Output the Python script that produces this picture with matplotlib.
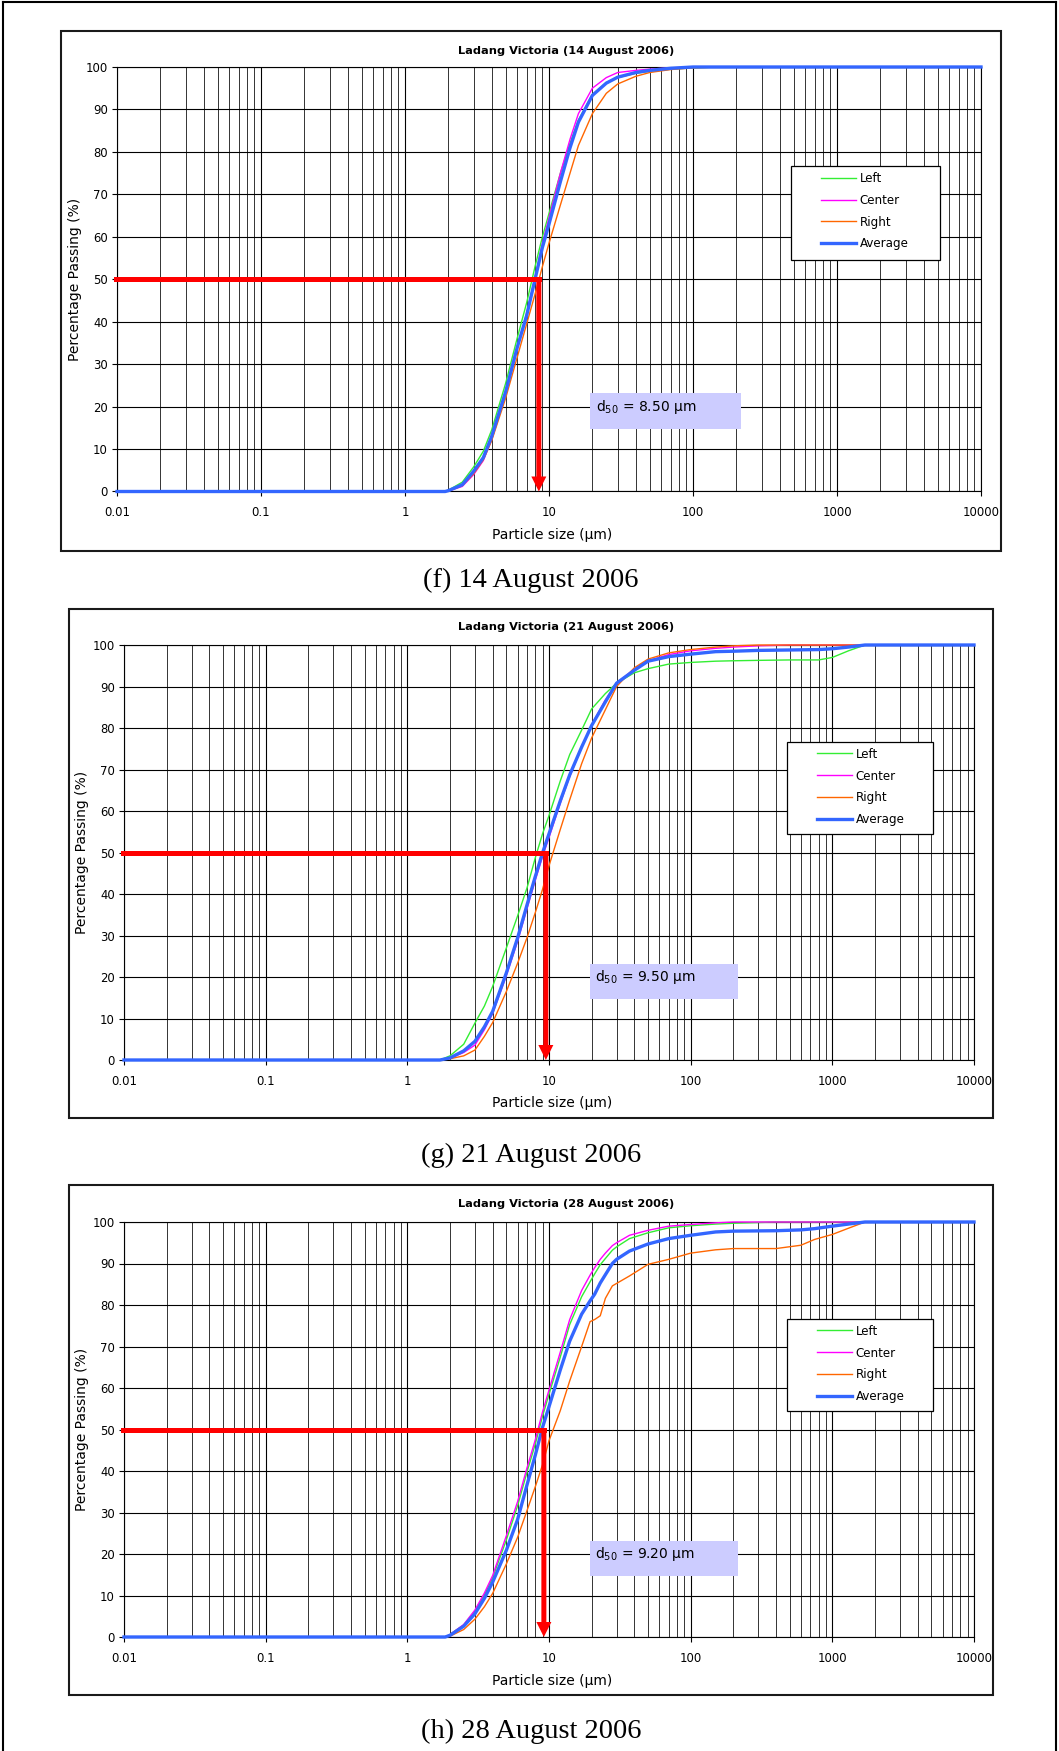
import numpy as np
import matplotlib
matplotlib.use("Agg")
import matplotlib.pyplot as plt
from matplotlib.patches import Rectangle
from matplotlib.lines import Line2D
from matplotlib.ticker import LogLocator, NullFormatter

plt.rcParams["font.family"] = ["DejaVu Sans"]

# ---------------------------------------------------------------- data
series_names = ["Left", "Center", "Right", "Average"]
series_colors = ["#33ee33", "#ff00ff", "#ff6600", "#3366ff"]

panel_tags = ["(f)", "(g)", "(h)"]
panel_dates = ["14 August 2006", "21 August 2006", "28 August 2006"]
d50_values = [8.50, 9.50, 9.20]

x_ticks = [0.01, 0.1, 1, 10, 100, 1000, 10000]
x_tick_labels = ["0.01", "0.1", "1", "10", "100", "1000", "10000"]
y_ticks = [0, 10, 20, 30, 40, 50, 60, 70, 80, 90, 100]

# 14 August 2006
size_f = [0.01, 1.9, 2, 2.5, 3, 3.5, 4, 5, 6, 7, 8, 9, 10, 12, 14, 16, 20, 25,
          30, 40, 50, 70, 100, 150, 10000]
left_f = [0, 0, 0.3, 2.2, 5.8, 9.5, 14.5, 25.5, 36, 44.5, 53, 60, 65.5, 75, 82,
          87.5, 93.5, 96.3, 97.5, 98.5, 99, 99.5, 99.8, 100, 100]
center_f = [0, 0, 0.1, 1.2, 4.0, 7.3, 12.2, 23, 33.5, 42, 50.5, 58.5, 64.5, 75,
            83, 89, 95, 97.5, 98.7, 99.2, 99.5, 99.8, 100, 100, 100]
right_f = [0, 0, 0.1, 1.4, 4.2, 7.5, 12, 22, 31.5, 39.5, 46.5, 53, 58.5, 67.5,
           75, 81.5, 89, 93.8, 96, 97.8, 98.7, 99.4, 99.8, 100, 100]
avg_f = [0, 0, 0.2, 1.6, 4.8, 8, 13, 23.5, 33.8, 41.5, 50, 57.5, 63, 73, 81, 87,
         93.3, 96.2, 97.6, 98.7, 99.2, 99.7, 100, 100, 100]

# 21 August 2006
size_g = [0.01, 1.7, 2, 2.5, 3, 3.5, 4, 5, 6, 7, 8, 9, 10, 12, 14, 17, 20, 25,
          30, 40, 50, 70, 100, 150, 200, 300, 500, 800, 1000, 1300, 1700, 2000,
          10000]
left_g = [0, 0, 1.0, 3.8, 8.9, 13, 17.7, 27, 34.7, 41.5, 48.7, 54.5, 58.9, 67.2,
          73.6, 79.5, 84.6, 88.3, 90.8, 93.3, 94.3, 95.4, 95.8, 96.1, 96.2,
          96.3, 96.4, 96.4, 97, 98.6, 100, 100, 100]
center_g = [0, 0, 0.4, 1.8, 3.6, 7.3, 11.2, 20.3, 28.6, 36.5, 43.3, 49, 53.6,
            61.8, 68.3, 75.3, 80.8, 86.8, 90.8, 94.2, 96.2, 97.7, 98.6, 99.2,
            99.5, 99.8, 100, 100, 100, 100, 100, 100, 100]
right_g = [0, 0, 0.3, 1.0, 2.4, 5.7, 9, 16.5, 23.3, 29.5, 35.5, 41.1, 46.8, 55.5,
           62.7, 71.4, 77.6, 84.4, 90, 94.5, 96.6, 98.1, 98.9, 99.5, 99.8, 100,
           100, 100, 100, 100, 100, 100, 100]
avg_g = [0, 0, 0.5, 2.2, 4.5, 8, 11.7, 21, 29.4, 37.4, 44.2, 49.9, 54.5, 62.4,
         68.7, 75.4, 80.6, 86.3, 90.8, 93.9, 96.1, 97.2, 97.8, 98.4, 98.5, 98.7,
         98.8, 98.9, 99.1, 99.5, 100, 100, 100]

# 28 August 2006
size_h = [0.01, 1.85, 2, 2.5, 3, 3.5, 4, 5, 6, 7, 8, 9, 10, 12, 14, 17, 19.5, 21,
          23, 25, 28, 30, 37, 50, 70, 100, 150, 200, 400, 600, 750, 1000, 1300,
          1700, 2000, 10000]
left_h = [0, 0, 0.6, 2.9, 6.3, 10.2, 14.3, 23.4, 31.6, 39.8, 46.5, 53.2, 58.5,
          67.4, 75.3, 82, 85.6, 87.5, 89.7, 91.2, 93.2, 94, 96, 97.4, 98.6, 99.1,
          99.5, 99.7, 100, 100, 100, 100, 100, 100, 100, 100]
center_h = [0, 0, 0.6, 3.0, 6.5, 10.6, 14.8, 24.4, 32.6, 40.8, 47.5, 54.2, 59.5,
            68.6, 76.5, 83.5, 87.2, 89, 91, 92.5, 94.3, 95, 96.8, 98, 99, 99.4,
            99.8, 100, 100, 100, 100, 100, 100, 100, 100, 100]
right_h = [0, 0, 0.2, 1.8, 4.3, 7.3, 10.5, 17.6, 24, 30.5, 36.2, 41.5, 47.3,
           54.5, 61.7, 70, 76, 76.5, 77.4, 81.6, 84.6, 85.2, 87, 89.8, 91, 92.5,
           93.3, 93.6, 93.6, 94.4, 95.8, 97, 98.5, 100, 100, 100]
avg_h = [0, 0, 0.4, 2.6, 5.6, 9.3, 13.2, 20.9, 28.3, 36.7, 43.8, 50.5, 55.5,
         64.3, 71.3, 77.8, 81, 82.6, 85.3, 87.3, 90, 91, 93, 94.7, 96, 96.8,
         97.6, 97.8, 97.9, 98.1, 98.4, 99, 99.5, 100, 100, 100]

panels = [
    (size_f, [left_f, center_f, right_f, avg_f]),
    (size_g, [left_g, center_g, right_g, avg_g]),
    (size_h, [left_h, center_h, right_h, avg_h]),
]

# ---------------------------------------------------------------- layout (pixels)
W, H = 1059, 1751
layout = [
    dict(ax=(117, 67, 981, 491.5), frame=(61, 31, 1001, 551), title_y=51.5, cap_y=580),
    dict(ax=(124, 645, 974, 1060), frame=(69, 609, 993, 1118), title_y=627, cap_y=1155),
    dict(ax=(124, 1222, 974, 1637), frame=(69, 1185, 993, 1695), title_y=1204, cap_y=1731),
]


def fx(x):
    return x / W


def fy(y):
    return 1 - y / H


fig = plt.figure(figsize=(W / 100, H / 100), dpi=100)
fig.patch.set_facecolor("white")

# page border (left, top, right)
for xs, ys in [([3, 3], [2, H]), ([3, 1056], [2, 2]), ([1056, 1056], [2, H])]:
    fig.add_artist(Line2D([fx(v) for v in xs], [fy(v) for v in ys],
                          color="black", lw=1.5, transform=fig.transFigure))

for k, (L, (sizes, series)) in enumerate(zip(layout, panels)):
    x0, y0, x1, y1 = L["ax"]
    fr = L["frame"]
    fig.add_artist(Rectangle((fx(fr[0]), fy(fr[3])), (fr[2] - fr[0]) / W,
                             (fr[3] - fr[1]) / H, transform=fig.transFigure,
                             fill=False, ec="#1a1a1a", lw=1.5))

    ax = fig.add_axes([fx(x0), fy(y1), (x1 - x0) / W, (y1 - y0) / H])
    ax.set_xscale("log")
    ax.set_xlim(0.01, 10000)
    ax.set_ylim(0, 100)
    ax.set_xticks(x_ticks)
    ax.set_xticklabels(x_tick_labels)
    ax.xaxis.set_minor_locator(LogLocator(base=10, subs=np.arange(2, 10), numticks=100))
    ax.xaxis.set_minor_formatter(NullFormatter())
    ax.set_yticks(y_ticks)
    ax.set_axisbelow(True)
    ax.grid(True, which="major", axis="both", color="black", lw=0.8)
    ax.grid(True, which="minor", axis="x", color="#333333", lw=0.7)
    ax.tick_params(which="major", length=3.5, width=0.8, labelsize=8.4,
                   colors="black")
    ax.tick_params(axis="x", which="major", pad=7)
    ax.tick_params(axis="y", which="major", pad=3)
    ax.tick_params(which="minor", length=0)
    for s in ax.spines.values():
        s.set_linewidth(0.8)
        s.set_color("black")

    handles = []
    for name, color, vals in zip(series_names, series_colors, series):
        lw = 2.4 if name == "Average" else 1.0
        ln, = ax.plot(sizes, vals, color=color, lw=lw, zorder=3 + (name == "Average"),
                      clip_on=False, solid_joinstyle="round", label=name)
        handles.append(ln)

    # d50 marker: horizontal line at 50 % and arrow down to the size axis
    d50 = d50_values[k]
    x_left = ax.get_xlim()[0] / 10 ** 0.01
    ax.plot([x_left, d50], [50, 50], color="red", lw=3.6,
            solid_capstyle="projecting", clip_on=False, zorder=6)
    ax.annotate("", xy=(d50, 0), xytext=(d50, 50),
                arrowprops=dict(arrowstyle="simple,head_length=0.6,head_width=0.6,tail_width=0.2",
                                fc="red", ec="none", lw=0, mutation_scale=18,
                                shrinkA=0, shrinkB=0),
                zorder=6, annotation_clip=False)

    # d50 label box
    ax.add_patch(Rectangle((0.548, 0.148), 0.174, 0.084, transform=ax.transAxes,
                           fc="#ccccff", ec="none", zorder=5))
    ax.text(0.554, 0.199, "d$_{50}$ = %.2f μm" % d50, transform=ax.transAxes,
            fontsize=10, va="center", ha="left", zorder=7)

    # legend
    ax.add_patch(Rectangle((0.78, 0.545), 0.172, 0.222, transform=ax.transAxes,
                           fc="white", ec="black", lw=0.9, zorder=8))
    leg = ax.legend(handles=handles, loc="upper left",
                    bbox_to_anchor=(0.78 + 24 / (x1 - x0), 0.767),
                    frameon=False, fontsize=8.6, handlelength=2.9,
                    handletextpad=0.35, labelspacing=0.74, borderpad=0.5,
                    borderaxespad=0)
    leg.set_zorder(9)

    # texts
    fig.text(fx(566), fy(L["title_y"]), "Ladang Victoria (%s)" % panel_dates[k],
             ha="center", va="center", fontsize=8.2, fontweight="bold")
    fig.text(fx((x0 + x1) / 2 + 3), fy(y1 + 43.5), "Particle size (μm)",
             ha="center", va="center", fontsize=10)
    fig.text(fx(x0 - 42), fy((y0 + y1) / 2), "Percentage Passing (%)",
             ha="center", va="center", fontsize=10, rotation=90)
    fig.text(fx(531), fy(L["cap_y"]), "%s %s" % (panel_tags[k], panel_dates[k]),
             ha="center", va="center", fontsize=20.5,
             family=["Liberation Serif", "DejaVu Serif"])

fig.savefig("out.png", dpi=100, facecolor="white")
